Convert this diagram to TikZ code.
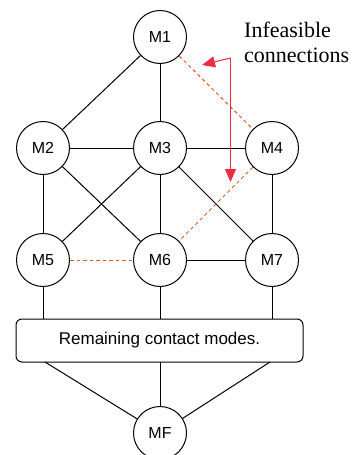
\documentclass[tikz,border=0pt]{standalone}
\usepackage{fontspec}
\setmainfont{Liberation Serif}
\setsansfont{Liberation Sans}
\usetikzlibrary{arrows.meta}
\definecolor{infred}{RGB}{236,44,64}
\definecolor{dashorange}{RGB}{222,90,30}
\begin{document}
\begin{tikzpicture}[x=1pt,y=-1pt,
  mode/.style={circle,draw,line width=1pt,minimum size=53pt,inner sep=0pt,font=\sffamily\fontsize{16}{18}\selectfont},
  edge/.style={line width=1pt},
  infeas/.style={draw=dashorange,line width=1pt,dash pattern=on 3.5pt off 3pt},
  redarrow/.style={draw=infred,line width=1pt,-{Triangle[length=13pt,width=11pt]},fill=infred}]
\useasboundingbox (0,0) rectangle (357,455);
\node[mode] (M1) at (160,37) {M1};
\node[mode] (M2) at (43,148) {M2};
\node[mode] (M3) at (160,148) {M3};
\node[mode] (M4) at (272,148) {M4};
\node[mode] (M5) at (43,260) {M5};
\node[mode] (M6) at (160,260) {M6};
\node[mode] (M7) at (272,260) {M7};
\node[mode] (MF) at (160,433) {MF};
\node[draw,line width=1pt,rounded corners=6pt,minimum width=287pt,minimum height=43pt,inner sep=0pt,font=\sffamily\fontsize{17}{19}\selectfont] (box) at (159.5,340.5) {Remaining contact modes.};
\node[align=left,anchor=north west,inner sep=0pt,font=\fontsize{22}{25}\selectfont] (lbl) at (244,22) {Infeasible\\connections};
% solid edges
\draw[edge] (M1) -- (M2);
\draw[edge] (M1) -- (M3);
\draw[edge] (M2) -- (M3);
\draw[edge] (M3) -- (M4);
\draw[edge] (M2) -- (M5);
\draw[edge] (M2) -- (M6);
\draw[edge] (M3) -- (M5);
\draw[edge] (M3) -- (M6);
\draw[edge] (M3) -- (M7);
\draw[edge] (M4) -- (M7);
\draw[edge] (M6) -- (M7);
% infeasible edges
\draw[infeas] (M1) -- (M4);
\draw[infeas] (M4) -- (M6);
\draw[infeas] (M5) -- (M6);
% to box
\draw[edge] (M5) -- (M5 |- box.north);
\draw[edge] (M6) -- (M6 |- box.north);
\draw[edge] (M7) -- (M7 |- box.north);
\coordinate (b1) at (45,362);
\coordinate (b2) at (160,362);
\coordinate (b3) at (270,362);
\draw[edge] (b1) -- (MF);
\draw[edge] (b2) -- (MF);
\draw[edge] (b3) -- (MF);
% red arrows
\coordinate (corner) at (230.5,58);
\coordinate (tipL) at (202,65);
\coordinate (tipD) at (230.5,182);
\draw[redarrow] (corner) -- (tipL);
\draw[redarrow] (corner) -- (tipD);
\end{tikzpicture}
\end{document}
